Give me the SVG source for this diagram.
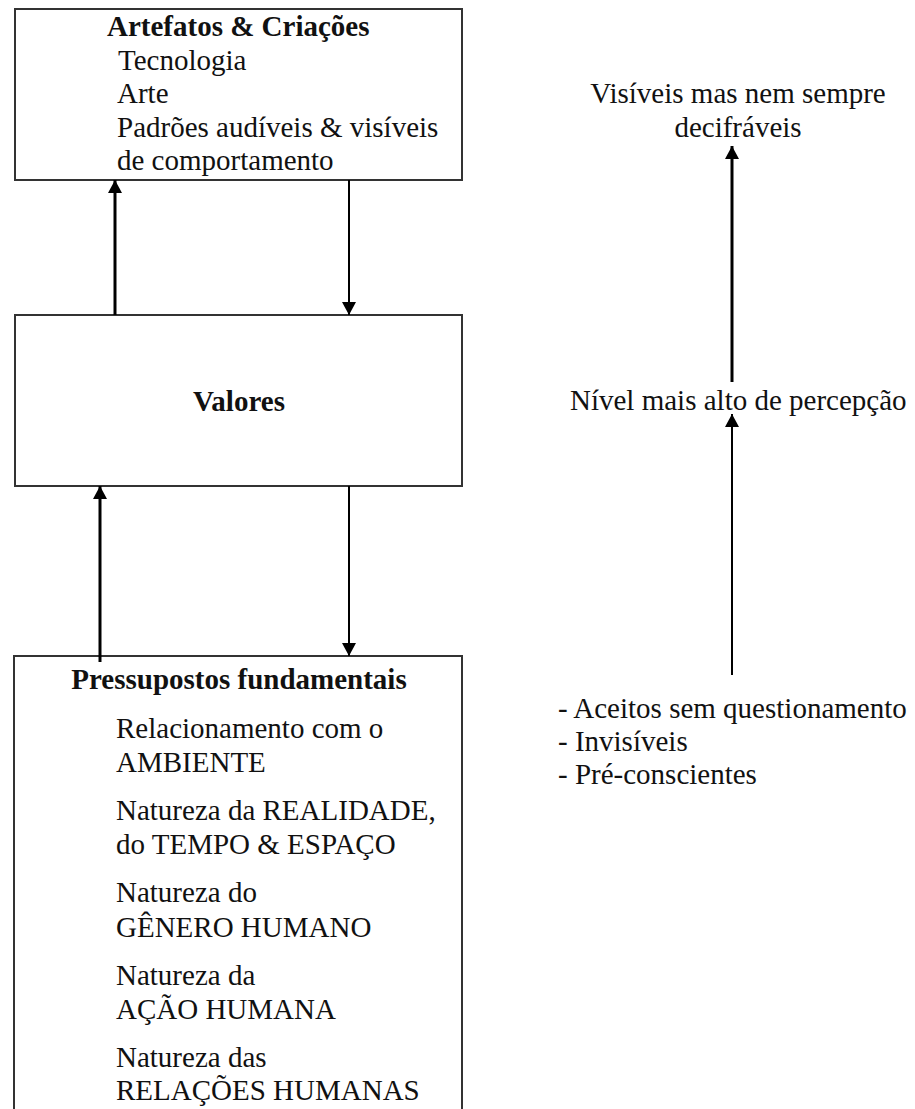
<svg xmlns="http://www.w3.org/2000/svg" width="915" height="1109" viewBox="0 0 915 1109">
<style>
.box{fill:#fff;stroke:#333;stroke-width:2}
text{font-family:'Liberation Serif','DejaVu Serif',serif;font-size:29px;fill:#111}
.b{font-weight:bold}
.c{stroke:#000;fill:none}
.thick{stroke-width:3}
.thin{stroke-width:2}
</style>
<defs>
<marker id="ah" markerUnits="userSpaceOnUse" markerWidth="14" markerHeight="14" refX="13" refY="7" orient="auto">
<path d="M0,0 L13,7 L0,14 z" fill="#000"/>
</marker>
</defs>
<rect width="915" height="1109" fill="#fff"/>
<g font-family="Liberation Serif, DejaVu Serif, serif">
<g id="artefatos">
<rect class="box" x="15" y="9" width="447" height="171"/>
<text class="b" x="107" y="36">Artefatos &amp; Criações</text>
<text x="118" y="69.5">Tecnologia</text>
<text x="117" y="103">Arte</text>
<text x="117" y="136.5">Padrões audíveis &amp; visíveis</text>
<text x="117" y="170">de comportamento</text>
</g>
<g id="valores">
<rect class="box" x="15" y="315" width="447" height="171"/>
<text class="b" x="239" y="411" text-anchor="middle">Valores</text>
</g>
<g id="pressupostos">
<rect class="box" x="14" y="656" width="448" height="470"/>
<text class="b" x="239" y="689" text-anchor="middle">Pressupostos fundamentais</text>
<text x="116" y="738">Relacionamento com o</text>
<text x="116" y="772">AMBIENTE</text>
<text x="116" y="820">Natureza da REALIDADE,</text>
<text x="116" y="854">do TEMPO &amp; ESPAÇO</text>
<text x="116" y="902">Natureza do</text>
<text x="116" y="937">GÊNERO HUMANO</text>
<text x="116" y="985">Natureza da</text>
<text x="116" y="1019">AÇÃO HUMANA</text>
<text x="116" y="1067">Natureza das</text>
<text x="116" y="1100">RELAÇÕES HUMANAS</text>
</g>
<g id="visiveis">
<text x="738" y="103" text-anchor="middle">Visíveis mas nem sempre</text>
<text x="738" y="137" text-anchor="middle">decifráveis</text>
</g>
<g id="nivel">
<text x="570" y="410">Nível mais alto de percepção</text>
</g>
<g id="aceitos">
<text x="558" y="718">- Aceitos sem questionamento</text>
<text x="558" y="751">- Invisíveis</text>
<text x="558" y="784">- Pré-conscientes</text>
</g>
</g>
<g id="connectors">
<line class="c thick" x1="115" y1="315" x2="115" y2="180" marker-end="url(#ah)"/>
<line class="c thin" x1="349" y1="180" x2="349" y2="315" marker-end="url(#ah)"/>
<line class="c thick" x1="100" y1="662" x2="100" y2="486" marker-end="url(#ah)"/>
<line class="c thin" x1="349" y1="486" x2="349" y2="656" marker-end="url(#ah)"/>
<line class="c thick" x1="732" y1="382" x2="732" y2="146" marker-end="url(#ah)"/>
<line class="c thin" x1="732" y1="675" x2="732" y2="414" marker-end="url(#ah)"/>
</g>
</svg>
